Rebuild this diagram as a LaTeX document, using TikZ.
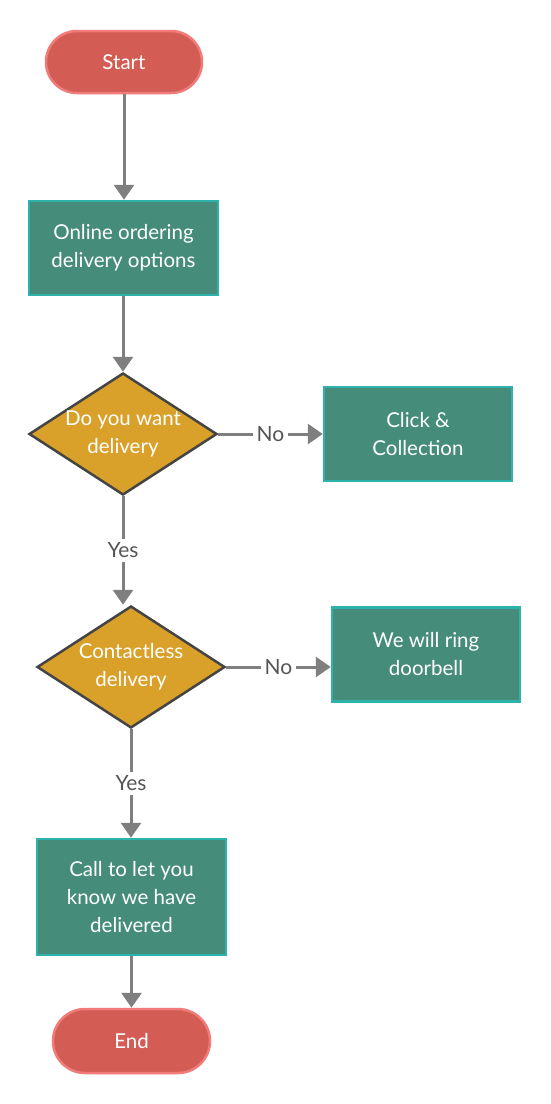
\documentclass[tikz,border=0pt]{standalone}
\usepackage{fontspec}
\setmainfont{Lato}
\usetikzlibrary{shapes.geometric,shapes.misc,arrows.meta}
\definecolor{pillfill}{HTML}{D35C55}
\definecolor{pillline}{HTML}{F07B78}
\definecolor{boxfill}{HTML}{458D7A}
\definecolor{boxline}{HTML}{2DB3AC}
\definecolor{dfill}{HTML}{DAA12A}
\definecolor{dline}{HTML}{444444}
\definecolor{arrc}{HTML}{7F7F7F}
\definecolor{lblc}{HTML}{555555}
\tikzset{
  x=1pt, y=-1pt,
  txt/.style={align=center, text=white, font=\fontsize{20.5}{28}\selectfont, inner sep=0pt},
  pill/.style={txt, rounded rectangle, fill=pillfill, draw=pillline, line width=2.5pt, minimum width=156pt, minimum height=62pt},
  procbox/.style={txt, rectangle, fill=boxfill, draw=boxline, line width=2.5pt, minimum width=188pt, minimum height=94pt},
  decide/.style={diamond, fill=dfill, draw=dline, line width=2.5pt, minimum width=188pt, minimum height=122pt, inner sep=0pt},
  dtext/.style={txt},
  arr/.style={draw=arrc, line width=3pt, -{Triangle[width=20pt,length=15pt]}},
  lbl/.style={fill=white, text=lblc, font=\fontsize{21}{24}\selectfont, inner sep=4pt},
}
\begin{document}
\begin{tikzpicture}
\useasboundingbox (0,0) rectangle (550,1104);
\node[pill] (start) at (124,62) {Start};
\node[procbox, minimum width=189pt] (online) at (123.5,248) {Online ordering\\delivery options};
\node[decide, label={[dtext]center:{Do you want\\delivery}}] (d1) at (123,434) {};
\node[procbox] (click) at (418,434) {Click \&\\Collection};
\node[decide, label={[dtext]center:{Contactless\\delivery}}] (d2) at (131,667) {};
\node[procbox] (ring) at (426,654.5) {We will ring\\doorbell};
\node[procbox, minimum width=189pt, minimum height=116pt] (call) at (131.5,897) {Call to let you\\know we have\\delivered};
\node[pill, minimum width=157pt, minimum height=64pt] (end) at (131.5,1041) {End};

\draw[arr] (start.south) -- (start.south |- online.north);
\draw[arr] (online.south -| d1.north) -- (d1.north);
\draw[arr] (d1.east) -- node[lbl] {No} (click.west);
\draw[arr] (d1.south) -- node[lbl] {Yes} (d1.south |- d2.north);
\draw[arr] (d2.east) -- node[lbl] {No} (d2.east -| ring.west);
\draw[arr] (d2.south) -- node[lbl] {Yes} (d2.south |- call.north);
\draw[arr] (call.south) -- (call.south |- end.north);
\end{tikzpicture}
\end{document}
